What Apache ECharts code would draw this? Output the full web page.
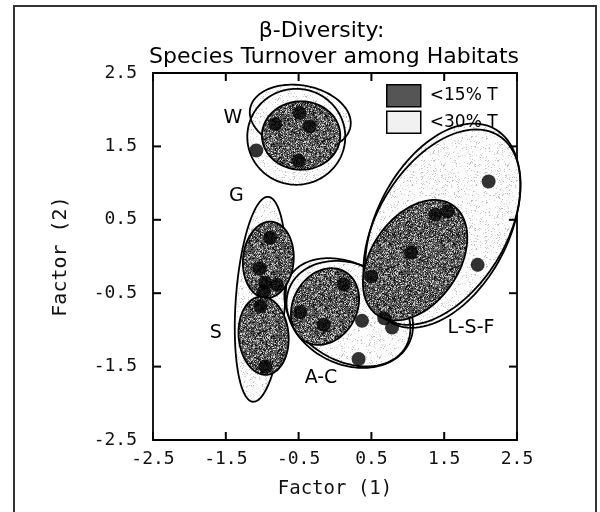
<!DOCTYPE html>
<html><head><meta charset="utf-8">
<script src="https://cdn.jsdelivr.net/npm/echarts@6/dist/echarts.min.js"></script>
<style>html,body{margin:0;padding:0;background:#fff}#c{width:600px;height:512px}</style>
</head><body><div id="c"></div>
<script>
// ---- data (Factor 1, Factor 2) ----
const tickValues = [-2.5, -1.5, -0.5, 0.5, 1.5, 2.5];
const pointsW = [[-0.486,1.955],[-0.820,1.805],[-0.349,1.772],[-1.081,1.445],[-0.500,1.304]];
const pointsG = [[-0.889,0.254],[-1.033,-0.162],[-0.957,-0.359],[-0.797,-0.386],[-0.981,-0.478]];
const pointsS = [[-1.026,-0.682],[-0.957,-1.501]];
const pointsAC = [[0.118,-0.377],[-0.477,-0.759],[-0.157,-0.932],[0.371,-0.877],[0.677,-0.841],[0.783,-0.969],[0.324,-1.396],[0.499,-0.273]];
const pointsLSF = [[2.110,1.022],[1.378,0.568],[1.547,0.613],[1.044,0.054],[1.959,-0.114]];
// ellipses: [centre x, centre y, semi-axis a, semi-axis b, angle of a (deg)]
const ellipses30 = [[-0.477,1.891,0.70,0.44,-10],[-0.532,1.631,0.673,0.654,0],[-1.022,-0.583,1.40,0.34,85.7],[0.203,-0.789,0.904,0.685,-25],[0.17,-0.76,0.93,0.655,-31],[1.48,0.42,1.50,0.907,62],[1.47,0.40,1.47,0.88,58]];
const ellipses15 = [[-0.466,1.648,0.538,0.466,0],[-0.916,-0.046,0.522,0.348,85],[-0.981,-1.079,0.534,0.343,95],[-0.137,-0.682,0.548,0.438,60],[1.10,-0.05,0.91,0.60,55]];
const groupNames = ['W','G','S','A-C','L-S-F'];
const groupLabelPos = [[-1.401,1.886],[-1.356,0.817],[-1.637,-1.045],[-0.192,-1.659],[1.868,-0.977]];
const legendNames = ['<15% T','<30% T'];

// axis runs from -2.5; values are shifted so that ticks start at a multiple of the interval
const SHIFT = 2.5;
const sh = p => [p[0] + SHIFT, p[1] + SHIFT];
const shE = e => [e[0] + SHIFT, e[1] + SHIFT, e[2], e[3], e[4]];

// stipple textures (deterministic)
function stipple(base, dots, density, size){
  const c=document.createElement('canvas'); c.width=c.height=size;
  const g=c.getContext('2d'); g.fillStyle=base; g.fillRect(0,0,size,size);
  let s=987654321;
  const next=()=>{ s=(s*1664525+1013904223)>>>0; return s/4294967296; };
  for(let y=0;y<size;y++) for(let x=0;x<size;x++){
    const r=next();
    if(r<density){ g.fillStyle=dots[Math.floor(next()*dots.length)]; g.fillRect(x,y,1,1); }
  }
  return {image:c, repeat:'repeat'};
}
const DARK = '#555555', LIGHT = '#f1f1f1';
const darkFill = stipple('#5a5a5a', ['#111','#222','#aaa','#d0d0d0'], 0.45, 64);
const lightFill = stipple('#fcfcfc', ['#bbb','#d5d5d5','#e2e2e2'], 0.13, 64);

function ellipseRender(fill, stroke){
  return function(params, api){
    const cx=api.value(0), cy=api.value(1), a=api.value(2), b=api.value(3), th=api.value(4)*Math.PI/180;
    const pts=[];
    for(let i=0;i<120;i++){
      const t=i/120*2*Math.PI, ex=a*Math.cos(t), ey=b*Math.sin(t);
      pts.push(api.coord([cx+ex*Math.cos(th)-ey*Math.sin(th), cy+ex*Math.sin(th)+ey*Math.cos(th)]));
    }
    return {type:'polygon', shape:{points:pts}, style:{fill:fill, stroke:stroke, lineWidth:1.8}};
  };
}
const allPoints = [].concat(pointsW, pointsG, pointsS, pointsAC, pointsLSF).map(sh);
const monoFont = 'DejaVu Sans Mono';
const fmt = v => (v - SHIFT).toFixed(1);
const axisCommon = {
  type:'value', min:0, max:5, interval:1,
  axisLine:{show:true, onZero:false, lineStyle:{color:'#000', width:1.8}},
  axisTick:{show:false},
  splitLine:{show:false}
};
const chart = echarts.init(document.getElementById('c'), null, {renderer:'canvas'});
chart.setOption({
  backgroundColor:'#fff',
  animation:false,
  grid:{left:153, right:83, top:73, bottom:72},
  xAxis:[
    Object.assign({}, axisCommon, {position:'bottom',
      axisLabel:{formatter:fmt, margin:10, fontFamily:monoFont, fontSize:18, color:'#111'},
      name:'Factor (1)', nameLocation:'middle', nameGap:40, nameTextStyle:{fontFamily:monoFont, fontSize:19, color:'#111'}}),
    Object.assign({}, axisCommon, {position:'top', axisLabel:{show:false}})
  ],
  yAxis:[
    Object.assign({}, axisCommon, {position:'left',
      axisLabel:{formatter:fmt, margin:16, fontFamily:monoFont, fontSize:18, color:'#111'},
      name:'Factor (2)', nameLocation:'middle', nameGap:82, nameTextStyle:{fontFamily:monoFont, fontSize:20, color:'#111'}}),
    Object.assign({}, axisCommon, {position:'right', axisLabel:{show:false}})
  ],
  legend:{
    orient:'vertical', left:381, top:79, itemWidth:34, itemHeight:22, itemGap:3, icon:'rect', selectedMode:false,
    textStyle:{fontFamily:'DejaVu Sans', fontSize:17, color:'#000', padding:[0,0,0,4]},
    data:[
      {name:legendNames[0], itemStyle:{color:DARK, borderColor:'#000', borderWidth:1.5}},
      {name:legendNames[1], itemStyle:{color:LIGHT, borderColor:'#000', borderWidth:1.5}}
    ]
  },
  graphic:[
    {type:'rect', silent:true, shape:{x:14, y:6, width:582, height:540}, style:{fill:'none', stroke:'#333', lineWidth:2}},
    {type:'text', x:321.5, y:31, style:{text:'β-Diversity:', fontFamily:'DejaVu Sans', fontSize:22, fill:'#000', textAlign:'center', textVerticalAlign:'middle'}},
    {type:'text', x:334, y:57, style:{text:'Species Turnover among Habitats', fontFamily:'DejaVu Sans', fontSize:22, fill:'#000', textAlign:'center', textVerticalAlign:'middle'}}
  ],
  series:[
    {name:legendNames[1], type:'custom', renderItem:ellipseRender(lightFill, 'none'), data:ellipses30.map(shE), encode:{x:0,y:1}, itemStyle:{color:LIGHT}, z:2, silent:true},
    {type:'custom', renderItem:ellipseRender('none', '#000'), data:ellipses30.map(shE), encode:{x:0,y:1}, z:3, silent:true},
    {name:legendNames[0], type:'custom', renderItem:ellipseRender(darkFill, '#000'), data:ellipses15.map(shE), encode:{x:0,y:1}, itemStyle:{color:DARK}, z:4, silent:true},
    {type:'scatter', data:allPoints, symbolSize:14, itemStyle:{color:'#000'}, z:5, silent:true},
    {type:'custom', z:6, silent:true, data:groupLabelPos.map(sh), encode:{x:0,y:1},
      renderItem:function(params, api){
        const p=api.coord([api.value(0), api.value(1)]);
        return {type:'text', x:p[0], y:p[1], style:{text:groupNames[params.dataIndex], fontFamily:'DejaVu Sans', fontSize:19, fill:'#000', textAlign:'center', textVerticalAlign:'middle'}};
      }},
    // inward tick marks on all four sides of the frame, placed by the axis scales
    {type:'custom', z:7, silent:true, clip:false, data:tickValues.map(v => [v + SHIFT, v + SHIFT]), encode:{x:0,y:1},
      renderItem:function(params, api){
        const v=api.value(0), lo=0, hi=5, L=8;
        const b=api.coord([v, lo]), t=api.coord([v, hi]), l=api.coord([lo, v]), r=api.coord([hi, v]);
        const st={stroke:'#000', lineWidth:2, fill:'none'};
        return {type:'group', children:[
          {type:'polyline', shape:{points:[[b[0], b[1]], [b[0], b[1]-L]]}, style:st},
          {type:'polyline', shape:{points:[[t[0], t[1]], [t[0], t[1]+L]]}, style:st},
          {type:'polyline', shape:{points:[[l[0], l[1]], [l[0]+L, l[1]]]}, style:st},
          {type:'polyline', shape:{points:[[r[0], r[1]], [r[0]-L, r[1]]]}, style:st}
        ]};
      }}
  ]
});
</script></body></html>
